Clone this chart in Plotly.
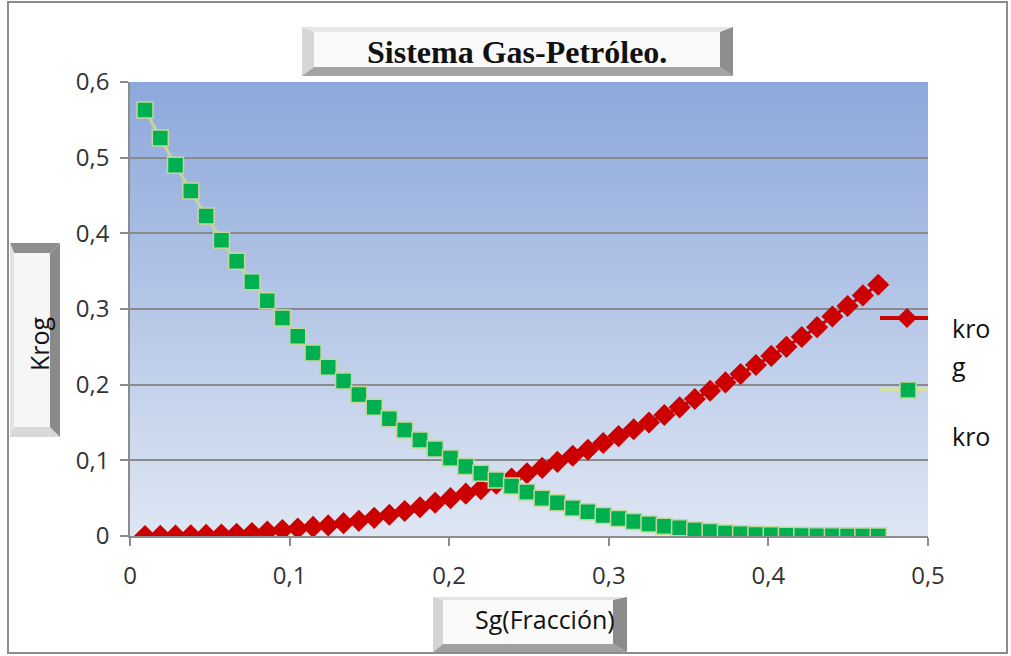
import plotly.graph_objects as go

# ---------------- data ----------------
sg = [0.0094, 0.0190, 0.0285, 0.0381, 0.0477, 0.0573, 0.0668, 0.0764, 0.0860, 0.0955,
      0.1051, 0.1147, 0.1242, 0.1338, 0.1434, 0.1530, 0.1625, 0.1721, 0.1817, 0.1912,
      0.2008, 0.2104, 0.2199, 0.2295, 0.2391, 0.2487, 0.2582, 0.2678, 0.2774, 0.2869,
      0.2965, 0.3061, 0.3156, 0.3252, 0.3348, 0.3444, 0.3539, 0.3635, 0.3731, 0.3826,
      0.3922, 0.4018, 0.4113, 0.4209, 0.4305, 0.4401, 0.4496, 0.4592, 0.4688]

krog = [0.000, 0.0002, 0.0005, 0.001, 0.0015, 0.002, 0.003, 0.004, 0.006, 0.008,
        0.010, 0.012, 0.014, 0.017, 0.020, 0.024, 0.028, 0.033, 0.038, 0.044,
        0.050, 0.056, 0.062, 0.069, 0.076, 0.083, 0.090, 0.098, 0.106, 0.114,
        0.123, 0.132, 0.141, 0.150, 0.160, 0.170, 0.181, 0.192, 0.203, 0.214,
        0.226, 0.238, 0.250, 0.263, 0.276, 0.290, 0.304, 0.318, 0.332]

kro = [0.563, 0.526, 0.490, 0.456, 0.423, 0.391, 0.363, 0.336, 0.311, 0.288,
       0.264, 0.242, 0.223, 0.205, 0.187, 0.170, 0.155, 0.140, 0.127, 0.115,
       0.103, 0.092, 0.083, 0.074, 0.066, 0.058, 0.050, 0.044, 0.037, 0.032,
       0.027, 0.023, 0.019, 0.016, 0.013, 0.011, 0.008, 0.006, 0.004, 0.003,
       0.002, 0.0015, 0.001, 0.0007, 0.0004, 0.0002, 0.0001, 0.00005, 0.0]

series_names = ["krog", "kro"]
title_text = "Sistema Gas-Petróleo."
x_title = "Sg(Fracción)"
y_title = "Krog"
legend_lines = ["kro", "g", "kro"]

# ---------------- layout helpers ----------------
W, H = 1011, 656
L, R, T, B = 130, 83, 82, 120
PW, PH = W - L - R, H - T - B

def px(x):
    return (x - L) / PW

def py(y):
    return (H - B - y) / PH

def path(points):
    s = "M " + " L ".join(f"{px(a):.5f},{py(b):.5f}" for a, b in points) + " Z"
    return s

shapes = []

# plot-area gradient background
N = 90
top_c = (141, 168, 219)
bot_c = (222, 230, 243)
for k in range(N):
    t = k / (N - 1)
    c = tuple(round(bot_c[i] + (top_c[i] - bot_c[i]) * t) for i in range(3))
    shapes.append(dict(type="rect", xref="paper", yref="paper",
                       x0=0, x1=1, y0=k / N, y1=min(1.0, (k + 2.0) / N),
                       fillcolor=f"rgb{c}", line=dict(width=0), layer="below"))

def bevel(x0, y0, x1, y1, bt, br, bb, bl, ct, cr, cb, cl, face):
    out = []
    out.append(dict(type="path", xref="paper", yref="paper",
                    path=path([(x0, y0), (x1, y0), (x1, y1), (x0, y1)]),
                    fillcolor=face, line=dict(width=0), layer="above"))
    out.append(dict(type="path", xref="paper", yref="paper",
                    path=path([(x0, y0), (x1, y0), (x1 - br, y0 + bt), (x0 + bl, y0 + bt)]),
                    fillcolor=ct, line=dict(width=0), layer="above"))
    out.append(dict(type="path", xref="paper", yref="paper",
                    path=path([(x0, y0), (x0, y1), (x0 + bl, y1 - bb), (x0 + bl, y0 + bt)]),
                    fillcolor=cl, line=dict(width=0), layer="above"))
    out.append(dict(type="path", xref="paper", yref="paper",
                    path=path([(x0, y1), (x1, y1), (x1 - br, y1 - bb), (x0 + bl, y1 - bb)]),
                    fillcolor=cb, line=dict(width=0), layer="above"))
    out.append(dict(type="path", xref="paper", yref="paper",
                    path=path([(x1, y0), (x1, y1), (x1 - br, y1 - bb), (x1 - br, y0 + bt)]),
                    fillcolor=cr, line=dict(width=0), layer="above"))
    return out

# title box
shapes += bevel(302, 27, 733, 76, 5, 13, 9, 12,
                "#e8e8e8", "#8e8e8e", "#a3a3a3", "#d6d6d6", "#fafafa")
# y-title box
shapes += bevel(10, 243, 60, 437, 10, 10, 10, 4,
                "#8e8e8e", "#8a8a8a", "#d8d8d8", "#e2e2e2", "#f6f6f6")
# x-title box
shapes += bevel(433, 597, 627, 652, 3, 14, 8, 10,
                "#e4e4e4", "#8c8c8c", "#a0a0a0", "#d4d4d4", "#fafafa")

# outer frame
shapes.append(dict(type="rect", xref="paper", yref="paper",
                   x0=px(8), x1=px(1007), y0=py(653), y1=py(2),
                   line=dict(color="#8c8c8c", width=2), fillcolor="rgba(0,0,0,0)",
                   layer="above"))

RED = "#cc0000"
GREEN = "#00b050"
PALE = "#c4d79b"

# legend glyphs
shapes.append(dict(type="line", xref="paper", yref="paper",
                   x0=px(880), x1=px(928), y0=py(318), y1=py(318),
                   line=dict(color=RED, width=4), layer="above"))
cx, cy, r = 907, 318, 10
shapes.append(dict(type="path", xref="paper", yref="paper",
                   path=path([(cx, cy - r), (cx + r, cy), (cx, cy + r), (cx - r, cy)]),
                   fillcolor=RED, line=dict(width=0), layer="above"))
shapes.append(dict(type="line", xref="paper", yref="paper",
                   x0=px(880), x1=px(928), y0=py(389), y1=py(389),
                   line=dict(color="#d3e29f", width=4), layer="above"))
cx, cy, r = 908, 390, 8
shapes.append(dict(type="path", xref="paper", yref="paper",
                   path=path([(cx - r, cy - r), (cx + r, cy - r), (cx + r, cy + r), (cx - r, cy + r)]),
                   fillcolor=GREEN, line=dict(color=PALE, width=1.5), layer="above"))

annotations = [
    dict(text=f"<b>{title_text}</b>", x=px(517), y=py(52), xref="paper", yref="paper",
         showarrow=False, xanchor="center", yanchor="middle",
         font=dict(family="Liberation Serif", size=32, color="#111111")),
    dict(text=y_title, x=px(39), y=py(344), xref="paper", yref="paper",
         showarrow=False, xanchor="center", yanchor="middle", textangle=-90,
         font=dict(family="Open Sans", size=25, color="#111111")),
    dict(text=x_title, x=px(545), y=py(619), xref="paper", yref="paper",
         showarrow=False, xanchor="center", yanchor="middle",
         font=dict(family="Open Sans", size=25, color="#111111")),
    dict(text=legend_lines[0], x=px(950), y=py(328), xref="paper", yref="paper",
         showarrow=False, xanchor="left", yanchor="middle",
         font=dict(family="Open Sans", size=25, color="#111111")),
    dict(text=legend_lines[1], x=px(950), y=py(366), xref="paper", yref="paper",
         showarrow=False, xanchor="left", yanchor="middle",
         font=dict(family="Open Sans", size=25, color="#111111")),
    dict(text=legend_lines[2], x=px(950), y=py(436), xref="paper", yref="paper",
         showarrow=False, xanchor="left", yanchor="middle",
         font=dict(family="Open Sans", size=25, color="#111111")),
]

fig = go.Figure()
fig.add_trace(go.Scatter(x=sg, y=krog, name=series_names[0], mode="lines+markers",
                         line=dict(color=RED, width=3),
                         marker=dict(symbol="diamond", size=17, color=RED,
                                     line=dict(width=0)),
                         showlegend=False))
fig.add_trace(go.Scatter(x=sg, y=kro, name=series_names[1], mode="lines+markers",
                         line=dict(color=PALE, width=3),
                         marker=dict(symbol="square", size=16, color=GREEN,
                                     line=dict(color=PALE, width=1.5)),
                         showlegend=False))

fig.update_layout(
    width=W, height=H,
    margin=dict(l=L, r=R, t=T, b=B, autoexpand=False),
    paper_bgcolor="white", plot_bgcolor="rgba(0,0,0,0)",
    separators=", ",
    shapes=shapes, annotations=annotations,
    showlegend=False,
    font=dict(family="Open Sans", color="#333333"),
)
fig.update_xaxes(range=[0, 0.5], dtick=0.1, tick0=0, showgrid=False, zeroline=False,
                 showline=True, linecolor="#8c8c8c", linewidth=1.5,
                 ticks="outside", ticklen=8, tickcolor="#8c8c8c", tickwidth=1.5,
                 ticklabelstandoff=9,
                 tickfont=dict(family="Open Sans", size=24, color="#333333"))
fig.update_yaxes(range=[0, 0.6], dtick=0.1, tick0=0, showgrid=True, gridcolor="#8a8a8a",
                 gridwidth=1.5, zeroline=False,
                 showline=True, linecolor="#8c8c8c", linewidth=1.5,
                 ticks="outside", ticklen=8, tickcolor="#8c8c8c", tickwidth=1.5,
                 ticklabelstandoff=6,
                 tickfont=dict(family="Open Sans", size=24, color="#333333"))

fig.write_html("out.html",
               config={"displayModeBar": False},
               post_script="document.body.style.margin='0';document.body.style.overflow='hidden';")
